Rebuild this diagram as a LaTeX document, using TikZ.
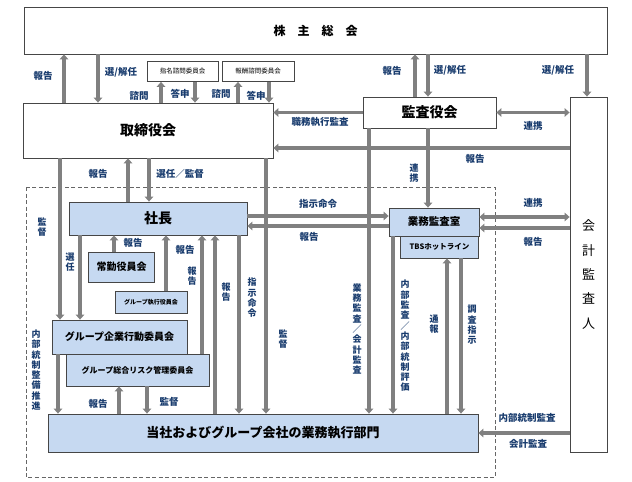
\documentclass[tikz,border=0pt]{standalone}
\usepackage{fontspec}
\setmainfont{Noto Sans CJK JP}
\usetikzlibrary{arrows.meta}
\definecolor{navy}{RGB}{25,60,110}
\definecolor{lblue}{RGB}{198,217,241}
\definecolor{agray}{RGB}{128,128,128}
\definecolor{bdr}{RGB}{70,70,70}
\begin{document}
\begin{tikzpicture}[x=1pt,y=-1pt,
  box/.style={draw=bdr, line width=0.8pt, fill=white, inner sep=0pt, text=black, align=center},
  bbox/.style={box, fill=lblue},
  arr/.style={draw=agray, line width=3.8pt, -{Triangle[length=5pt,width=8.5pt]}},
  darr/.style={draw=agray, line width=3.8pt, {Triangle[length=5pt,width=8.5pt]}-{Triangle[length=5pt,width=8.5pt]}},
  lbl/.style={text=navy, inner sep=0pt, font=\bfseries\fontsize{9.5}{11}\selectfont},
  vlbl/.style={text=navy, inner sep=0pt, align=center, font=\bfseries\fontsize{9}{10.3}\selectfont},
  dashbox/.style={draw=black!60, line width=0.9pt, dash pattern=on 4pt off 2.5pt},
]
\useasboundingbox (0,0) rectangle (632,482);
\fill[white] (0,0) rectangle (632,482);
\draw[dashbox] (26,187) rectangle (495,477);

% boxes
\node[box, minimum width=583pt, minimum height=47pt, font=\bfseries\fontsize{12}{14}\selectfont] (kab) at (315.5,30.5) {株　主　総　会};
\node[box, minimum width=71pt, minimum height=20pt, font=\fontsize{6.5}{8}\selectfont] (shimei) at (182.5,71.5) {指名諮問委員会};
\node[box, minimum width=72pt, minimum height=20pt, font=\fontsize{6.5}{8}\selectfont] (hoshu) at (258,71.5) {報酬諮問委員会};
\node[box, minimum width=250pt, minimum height=55pt, font=\bfseries\fontsize{14}{16}\selectfont] (tori) at (148,130.5) {取締役会};
\node[box, minimum width=133pt, minimum height=31pt, font=\bfseries\fontsize{14}{16}\selectfont] (kansa) at (429.5,112.5) {監査役会};
\node[box, minimum width=37pt, minimum height=355pt, font=\fontsize{13}{24.3}\selectfont] (kaikei) at (588.5,274.5) {会\\計\\監\\査\\人};
\node[bbox, minimum width=178pt, minimum height=33pt, font=\bfseries\fontsize{14}{16}\selectfont] (shacho) at (158,218.5) {社長};
\node[bbox, minimum width=66pt, minimum height=30pt, font=\bfseries\fontsize{10}{12}\selectfont] (joukin) at (121.5,267) {常勤役員会};
\node[bbox, minimum width=72pt, minimum height=22pt, font=\bfseries\fontsize{6}{7}\selectfont] (gshikkou) at (151,302) {グループ執行役員会};
\node[bbox, minimum width=135pt, minimum height=34pt, font=\bfseries\fontsize{10}{12}\selectfont] (gkigyo) at (119.5,337) {グループ企業行動委員会};
\node[bbox, minimum width=143pt, minimum height=32pt, font=\bfseries\fontsize{8}{10}\selectfont] (grisk) at (137.5,370) {グループ総合リスク管理委員会};
\node[bbox, minimum width=430pt, minimum height=38pt, font=\bfseries\fontsize{13}{15}\selectfont] (gyomu) at (263,433) {当社およびグループ会社の業務執行部門};
\node[bbox, minimum width=90pt, minimum height=28pt, font=\bfseries\fontsize{10.5}{12}\selectfont] (gkansa) at (434,222) {業務監査室};
\node[bbox, minimum width=78pt, minimum height=22pt, font=\bfseries\fontsize{7.5}{9}\selectfont] (tbs) at (439.5,247) {TBSホットライン};

% column coordinates
\coordinate (x58) at (58,0);
\coordinate (x60) at (60,0);
\coordinate (x64) at (64,0);
\coordinate (x80) at (80,0);
\coordinate (x98) at (98,0);
\coordinate (x114) at (114,0);
\coordinate (x119) at (119,0);
\coordinate (x128) at (128,0);
\coordinate (x147) at (147,0);
\coordinate (x149) at (149,0);
\coordinate (x161) at (161,0);
\coordinate (x166) at (166,0);
\coordinate (x195) at (195,0);
\coordinate (x202) at (202,0);
\coordinate (x215) at (215,0);
\coordinate (x238) at (238,0);
\coordinate (x239) at (239,0);
\coordinate (x266) at (266,0);
\coordinate (x269) at (269,0);
\coordinate (x369) at (369,0);
\coordinate (x393) at (393,0);
\coordinate (x415) at (415,0);
\coordinate (x428) at (428,0);
\coordinate (x447) at (447,0);
\coordinate (x461) at (461,0);
\coordinate (x587) at (587,0);
% row coordinates
\coordinate (y148) at (0,148);
\coordinate (y216) at (0,216);
\coordinate (y217) at (0,217);
\coordinate (y226) at (0,226);
\coordinate (y228) at (0,228);

% vertical arrows
\draw[arr] (tori.north -| x64) -- (kab.south -| x64);
\draw[arr] (kab.south -| x98) -- (tori.north -| x98);
\draw[arr] (tori.north -| x161) -- (shimei.south -| x161);
\draw[arr] (shimei.south -| x195) -- (tori.north -| x195);
\draw[arr] (tori.north -| x238) -- (hoshu.south -| x238);
\draw[arr] (hoshu.south -| x269) -- (tori.north -| x269);
\draw[arr] (kansa.north -| x415) -- (kab.south -| x415);
\draw[arr] (kab.south -| x428) -- (kansa.north -| x428);
\draw[arr] (kab.south -| x587) -- (kaikei.north -| x587);
\draw[arr] (kansa.south -| x428) -- (gkansa.north -| x428);
\draw[arr] (kansa.south -| x369) -- (gyomu.north -| x369);
\draw[arr] (tori.south -| x60) -- (gkigyo.north -| x60);
\draw[arr] (shacho.north -| x128) -- (tori.south -| x128);
\draw[arr] (tori.south -| x149) -- (shacho.north -| x149);
\draw[arr] (tori.south -| x266) -- (gyomu.north -| x266);
\draw[arr] (shacho.south -| x80) -- (gkigyo.north -| x80);
\draw[arr] (joukin.north -| x114) -- (shacho.south -| x114);
\draw[arr] (gshikkou.north -| x166) -- (shacho.south -| x166);
\draw[arr] (grisk.north -| x202) -- (shacho.south -| x202);
\draw[arr] (gyomu.north -| x215) -- (shacho.south -| x215);
\draw[arr] (shacho.south -| x239) -- (gyomu.north -| x239);
\draw[arr] (gkansa.south -| x393) -- (gyomu.north -| x393);
\draw[arr] (gyomu.north -| x447) -- (tbs.south -| x447);
\draw[arr] (tbs.south -| x461) -- (gyomu.north -| x461);
\draw[arr] (gkigyo.south -| x58) -- (gyomu.north -| x58);
\draw[arr] (gyomu.north -| x119) -- (grisk.south -| x119);
\draw[arr] (grisk.south -| x147) -- (gyomu.north -| x147);

% horizontal arrows
\draw[arr] (kansa.west) -- (kansa.west -| tori.east);
\draw[darr] (kansa.east) -- (kansa.east -| kaikei.west);
\draw[arr] (kaikei.west |- y148) -- (tori.east |- y148);
\draw[arr] (shacho.east |- y216) -- (gkansa.west |- y216);
\draw[arr] (gkansa.west |- y226) -- (shacho.east |- y226);
\draw[darr] (gkansa.east |- y217) -- (kaikei.west |- y217);
\draw[arr] (kaikei.west |- y228) -- (gkansa.east |- y228);
\draw[arr] (kaikei.west |- gyomu.east) -- (gyomu.east);

% labels
\node[lbl] (l1) at (43,76) {報告};
\node[lbl] (l2) at (121,72) {選/解任};
\node[lbl] (l3) at (139,96) {諮問};
\node[lbl] (l4) at (180,94) {答申};
\node[lbl] (l5) at (221,94) {諮問};
\node[lbl] (l6) at (256,96) {答申};
\node[lbl] (l7) at (392,71) {報告};
\node[lbl] (l8) at (450,70) {選/解任};
\node[lbl] (l9) at (558,70) {選/解任};
\node[lbl] (l10) at (320,122) {職務執行監査};
\node[lbl] (l11) at (533,126) {連携};
\node[lbl] (l12) at (475,159) {報告};
\node[vlbl] (l13) at (414,173) {連\\携};
\node[lbl] (l14) at (98,174) {報告};
\node[lbl] (l15) at (180,174) {選任／監督};
\node[vlbl] (l16) at (42,227) {監\\督};
\node[vlbl] (l17) at (70,262) {選\\任};
\node[lbl] (l18) at (133,243) {報告};
\node[lbl] (l19) at (185,250) {報告};
\node[vlbl] (l20) at (192,276) {報\\告};
\node[vlbl] (l21) at (226,292) {報\\告};
\node[vlbl] (l22) at (252,298) {指\\示\\命\\令};
\node[vlbl] (l23) at (283,339) {監\\督};
\node[lbl] (l24) at (318,204) {指示命令};
\node[lbl] (l25) at (309,237) {報告};
\node[lbl] (l26) at (533,203) {連携};
\node[lbl] (l27) at (533,242) {報告};
\node[vlbl] (l28) at (357,329) {業\\務\\監\\査\\／\\会\\計\\監\\査};
\node[vlbl] (l29) at (405,336) {内\\部\\監\\査\\／\\内\\部\\統\\制\\評\\価};
\node[vlbl] (l30) at (434,324) {通\\報};
\node[vlbl] (l31) at (472,325) {調\\査\\指\\示};
\node[vlbl] (l32) at (36,370) {内\\部\\統\\制\\整\\備\\推\\進};
\node[lbl] (l33) at (98,404) {報告};
\node[lbl] (l34) at (169,402) {監督};
\node[lbl] (l35) at (527,418) {内部統制監査};
\node[lbl] (l36) at (528,444) {会計監査};
\end{tikzpicture}
\end{document}
